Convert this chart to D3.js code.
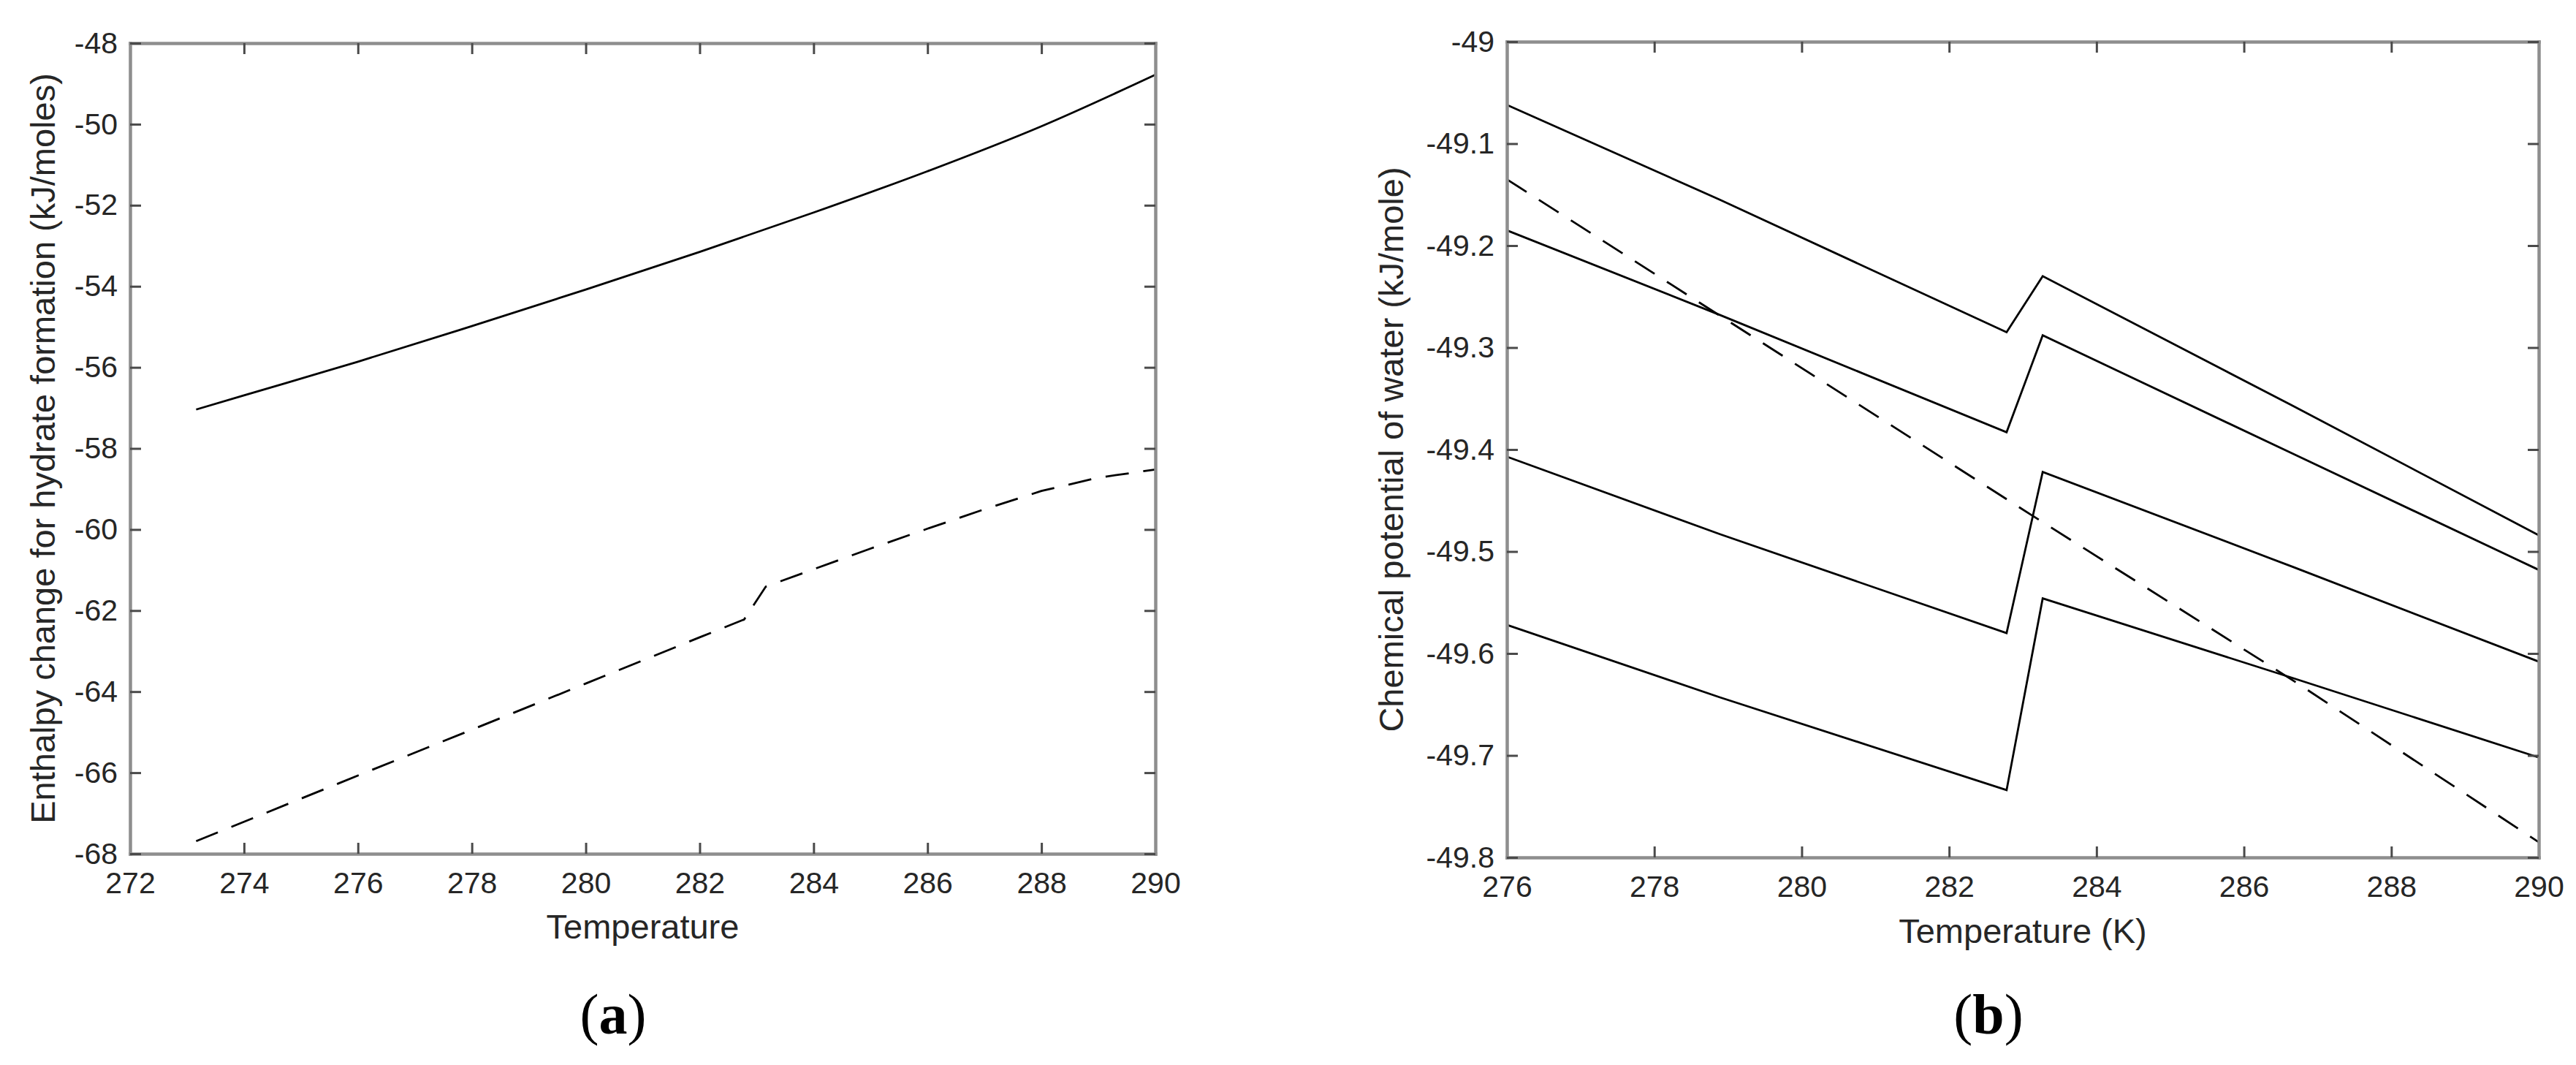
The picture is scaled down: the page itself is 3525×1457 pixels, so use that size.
<!DOCTYPE html>
<html>
<head>
<meta charset="utf-8">
<script src="https://cdn.jsdelivr.net/npm/d3@7"></script>
<style>
	body { margin: 0; background: #ffffff; }
</style>
</head>
<body>
<div id="chart"></div>
<script>
// (a) enthalpy change vs temperature
var tempA_solid = [273.16, 274, 276, 278, 280, 282, 284, 286, 288, 290]
var enthalpy_solid = [-57.04, -56.69, -55.86, -54.98, -54.08, -53.15, -52.18, -51.16, -50.05, -48.78]
var tempA_dash = [273.16, 276, 278, 280, 282, 282.78, 283.16, 284, 285, 286, 287, 288, 289, 290]
var enthalpy_dash = [-67.69, -66.07, -64.94, -63.80, -62.66, -62.22, -61.41, -60.98, -60.47, -59.98, -59.50, -59.05, -58.72, -58.52]
var xTicksA = [272, 274, 276, 278, 280, 282, 284, 286, 288, 290]
var yTicksA = [-68, -66, -64, -62, -60, -58, -56, -54, -52, -50, -48]

// (b) chemical potential of water vs temperature
var tempB = [276, 278.89, 282.78, 283.27, 286.66, 290]
var mu1 = [-49.062, -49.155, -49.285, -49.230, -49.357, -49.484]
var mu2 = [-49.185, -49.268, -49.383, -49.288, -49.404, -49.518]
var mu3 = [-49.407, -49.483, -49.580, -49.422, -49.515, -49.608]
var mu4 = [-49.572, -49.643, -49.734, -49.546, -49.624, -49.702]
var tempB_dash = [276, 283.09, 286.70, 290]
var mu_dash = [-49.135, -49.463, -49.628, -49.785]
var xTicksB = [276, 278, 280, 282, 284, 286, 288, 290]
var yTicksB = [-49.8, -49.7, -49.6, -49.5, -49.4, -49.3, -49.2, -49.1, -49]

var W = 3525, H = 1457

var svg = d3.select("#chart")
	.append("svg")
	.attr("width", W)
	.attr("height", H)
	.style("font-family", "'Liberation Sans', Arial, sans-serif")

function zip(xs, ys) {
	return xs.map(function(d, i) { return {x: d, y: ys[i]} })
}

function draw_panel(p)
{
	var box = p.box
	var x = d3.scaleLinear()
		.domain(p.xDomain)
		.range([box.left, box.left + box.width])
	var y = d3.scaleLinear()
		.domain(p.yDomain)
		.range([box.top + box.height, box.top])

	var g = svg.append("g")

	// data lines first, frame goes on top
	p.series.forEach(function(s) {
		var line = d3.line()
			.x(function(d) { return x(d.x) })
			.y(function(d) { return y(d.y) })
			.curve(s.smooth ? d3.curveMonotoneX : d3.curveLinear)
		g.append("path")
			.datum(s.data)
			.attr("d", line)
			.attr("fill", "none")
			.attr("stroke", "#000")
			.attr("stroke-width", 2.8)
			.attr("stroke-linejoin", "miter")
			.attr("stroke-dasharray", s.dashed ? "32,20" : null)
	})

	var fmt = function(d) { return String(d) }

	var axes = [
		{ ax: d3.axisBottom(x).tickValues(p.xTicks).tickFormat(fmt).tickPadding(25), t: "translate(0," + (box.top + box.height) + ")" },
		{ ax: d3.axisTop(x).tickValues(p.xTicks).tickFormat(""), t: "translate(0," + box.top + ")" },
		{ ax: d3.axisLeft(y).tickValues(p.yTicks).tickFormat(fmt).tickPadding(17), t: "translate(" + box.left + ",0)" },
		{ ax: d3.axisRight(y).tickValues(p.yTicks).tickFormat(""), t: "translate(" + (box.left + box.width) + ",0)" }
	]

	axes.forEach(function(a) {
		var ag = g.append("g")
			.attr("transform", a.t)
			.call(a.ax.tickSize(-15).tickSizeOuter(0))
		ag.select(".domain")
			.attr("stroke", "#8e8e8e")
			.attr("stroke-width", 4.5)
			.attr("stroke-linecap", "square")
		ag.selectAll(".tick line")
			.attr("stroke", "#4a4a4a")
			.attr("stroke-width", 3)
		ag.selectAll(".tick text")
			.attr("fill", "#262626")
			.style("font-size", "41px")
			.style("font-family", "'Liberation Sans', Arial, sans-serif")
	})

	g.append("text")
		.attr("x", box.left + box.width / 2)
		.attr("y", p.xLabelY)
		.attr("text-anchor", "middle")
		.attr("fill", "#262626")
		.style("font-size", "47px")
		.text(p.xLabel)

	g.append("text")
		.attr("transform", "translate(" + p.yLabelX + "," + (box.top + box.height / 2) + ") rotate(-90)")
		.attr("text-anchor", "middle")
		.attr("fill", "#262626")
		.style("font-size", "47px")
		.text(p.yLabel)

	var cap = g.append("text")
		.attr("x", p.captionX)
		.attr("y", 1414)
		.attr("text-anchor", "middle")
		.attr("fill", "#000")
		.style("font-family", "'Liberation Serif', 'Times New Roman', serif")
		.style("font-size", "78px")
	cap.append("tspan").text("(")
	cap.append("tspan").style("font-weight", "bold").text(p.caption)
	cap.append("tspan").text(")")
}

draw_panel({
	box: {left: 178, top: 59, width: 1403, height: 1109},
	xDomain: [272, 290],
	yDomain: [-68, -48],
	xTicks: xTicksA,
	yTicks: yTicksA,
	xLabel: "Temperature",
	xLabelY: 1284,
	yLabel: "Enthalpy change for hydrate formation (kJ/moles)",
	yLabelX: 75,
	caption: "a",
	captionX: 839,
	series: [
		{data: zip(tempA_solid, enthalpy_solid), dashed: false, smooth: true},
		{data: zip(tempA_dash, enthalpy_dash), dashed: true, smooth: false}
	]
})

draw_panel({
	box: {left: 2062, top: 57, width: 1412, height: 1116},
	xDomain: [276, 290],
	yDomain: [-49.8, -49],
	xTicks: xTicksB,
	yTicks: yTicksB,
	xLabel: "Temperature (K)",
	xLabelY: 1290,
	yLabel: "Chemical potential of water (kJ/mole)",
	yLabelX: 1920,
	caption: "b",
	captionX: 2721,
	series: [
		{data: zip(tempB, mu1), dashed: false},
		{data: zip(tempB, mu2), dashed: false},
		{data: zip(tempB, mu3), dashed: false},
		{data: zip(tempB, mu4), dashed: false},
		{data: zip(tempB_dash, mu_dash), dashed: true}
	]
})
</script>
</body>
</html>
